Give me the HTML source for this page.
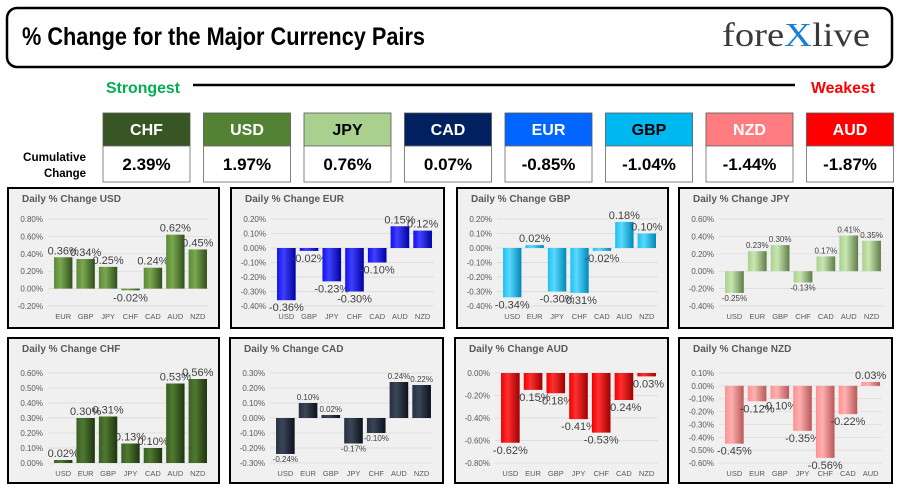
<!DOCTYPE html>
<html><head><meta charset="utf-8"><style>
body{margin:0;background:#fff;}
svg{display:block;font-family:"Liberation Sans",sans-serif;}
.n{font-family:"Liberation Sans Narrow","Liberation Sans",sans-serif;font-weight:bold;}
</style></head><body>
<svg id="s" width="900" height="496" viewBox="0 0 900 496">
<defs id="defs"></defs>
<rect x="7" y="8" width="885" height="59" rx="10" fill="#fff" stroke="#000" stroke-width="2.5"/>
<text x="22" y="45" class="n" font-size="25" textLength="403" lengthAdjust="spacingAndGlyphs" fill="#000">% Change for the Major Currency Pairs</text>
<text x="722" y="46" font-family="Liberation Serif,serif" font-size="34" fill="#3a3a3a" textLength="148" lengthAdjust="spacingAndGlyphs">fore<tspan fill="#1a7fd0">X</tspan>live</text>
<text x="106" y="93" class="n" font-size="16" fill="#00b050" textLength="74" lengthAdjust="spacingAndGlyphs">Strongest</text>
<line x1="193" y1="85" x2="795" y2="85" stroke="#000" stroke-width="2.5"/>
<text x="811" y="93" class="n" font-size="16" fill="#ff0000" textLength="64" lengthAdjust="spacingAndGlyphs">Weakest</text>
<text x="23" y="161" class="n" font-size="12" fill="#000" textLength="63" lengthAdjust="spacingAndGlyphs">Cumulative</text>
<text x="44" y="177" class="n" font-size="12" fill="#000" textLength="42" lengthAdjust="spacingAndGlyphs">Change</text>
<g id="boxes"></g>
<g id="charts"></g>
</svg>
<script>
const NS="http://www.w3.org/2000/svg";
const rankCurrencies=["CHF","USD","JPY","CAD","EUR","GBP","NZD","AUD"];
const rankValues=[2.39,1.97,0.76,0.07,-0.85,-1.04,-1.44,-1.87];
const rankColors=["#375623","#548235","#a9d08e","#002060","#0066ff","#00b8f0","#ff7c80","#ff0000"];
const rankTextColors=["#fff","#fff","#000","#fff","#fff","#000","#fff","#fff"];

const usdCats=["EUR","GBP","JPY","CHF","CAD","AUD","NZD"], usdVals=[0.36,0.34,0.25,-0.02,0.24,0.62,0.45], usdTicks=[0.8,0.6,0.4,0.2,0,-0.2];
const eurCats=["USD","GBP","JPY","CHF","CAD","AUD","NZD"], eurVals=[-0.36,-0.02,-0.23,-0.30,-0.10,0.15,0.12], eurTicks=[0.2,0.1,0,-0.1,-0.2,-0.3,-0.4];
const gbpCats=["USD","EUR","JPY","CHF","CAD","AUD","NZD"], gbpVals=[-0.34,0.02,-0.30,-0.31,-0.02,0.18,0.10], gbpTicks=[0.2,0.1,0,-0.1,-0.2,-0.3,-0.4];
const jpyCats=["USD","EUR","GBP","CHF","CAD","AUD","NZD"], jpyVals=[-0.25,0.23,0.30,-0.13,0.17,0.41,0.35], jpyTicks=[0.6,0.4,0.2,0,-0.2,-0.4];
const chfCats=["USD","EUR","GBP","JPY","CAD","AUD","NZD"], chfVals=[0.02,0.30,0.31,0.13,0.10,0.53,0.56], chfTicks=[0.6,0.5,0.4,0.3,0.2,0.1,0];
const cadCats=["USD","EUR","GBP","JPY","CHF","AUD","NZD"], cadVals=[-0.24,0.10,0.02,-0.17,-0.10,0.24,0.22], cadTicks=[0.3,0.2,0.1,0,-0.1,-0.2,-0.3];
const audCats=["USD","EUR","GBP","JPY","CHF","CAD","NZD"], audVals=[-0.62,-0.15,-0.18,-0.41,-0.53,-0.24,-0.03], audTicks=[0,-0.2,-0.4,-0.6,-0.8];
const nzdCats=["USD","EUR","GBP","JPY","CHF","CAD","AUD"], nzdVals=[-0.45,-0.12,-0.10,-0.35,-0.56,-0.22,0.03], nzdTicks=[0.1,0,-0.1,-0.2,-0.3,-0.4,-0.5,-0.6];

function mk(tag,attrs,parent){const e=document.createElementNS(NS,tag);for(const k in attrs)e.setAttribute(k,attrs[k]);if(parent)parent.appendChild(e);return e;}
const boxes=document.getElementById('boxes');
rankCurrencies.forEach((c,i)=>{
  const x=103+i*100.5;
  const g=mk('g',{},boxes);
  
  
  mk('rect',{x:x,y:113,width:87,height:33,fill:rankColors[i],stroke:"#555","stroke-width":0.8},g);
  mk('rect',{x:x,y:146,width:87,height:36,fill:"#fff",stroke:"#666","stroke-width":0.8},g);
  const t=mk('text',{x:x+43.5,y:135,"text-anchor":"middle","class":"n","font-size":16,fill:rankTextColors[i]},g);t.textContent=c;
  const v=mk('text',{x:x+43.5,y:170,"text-anchor":"middle","class":"n","font-size":17,fill:"#000"},g);v.textContent=rankValues[i].toFixed(2)+'%';
});
const defs=document.getElementById('defs');
function grad(id,light,mid,dark){
  const lg=mk('linearGradient',{id:id,x1:0,x2:1,y1:0,y2:0},defs);
  mk('stop',{offset:"0%","stop-color":mid},lg);
  mk('stop',{offset:"35%","stop-color":light},lg);
  mk('stop',{offset:"100%","stop-color":dark},lg);
}
grad('gUSD','#7aa84f','#5a8a38','#2f4f1c');
grad('gEUR','#4040ff','#1010ee','#0000a0');
grad('gGBP','#5ad8ff','#20c0f0','#0088b8');
grad('gJPY','#c8e6b0','#a9d08e','#5e7d48');
grad('gCHF','#4f7a30','#3a5e24','#1e3410');
grad('gCAD','#3a4658','#25303f','#0c121c');
grad('gAUD','#ff3030','#ee0000','#a00000');
grad('gNZD','#ffb0b0','#ff9090','#b85858');

const charts=[
 {n:'usd',t:'USD',x:8,y:188,w:211,h:140,cats:usdCats,vals:usdVals,ticks:usdTicks,f:'gUSD',ls:11,row:1},
 {n:'eur',t:'EUR',x:231,y:188,w:213,h:140,cats:eurCats,vals:eurVals,ticks:eurTicks,f:'gEUR',ls:11,row:1},
 {n:'gbp',t:'GBP',x:457,y:188,w:211,h:140,cats:gbpCats,vals:gbpVals,ticks:gbpTicks,f:'gGBP',ls:11,row:1},
 {n:'jpy',t:'JPY',x:679,y:188,w:214,h:140,cats:jpyCats,vals:jpyVals,ticks:jpyTicks,f:'gJPY',ls:8,row:1},
 {n:'chf',t:'CHF',x:8,y:338,w:211,h:145,cats:chfCats,vals:chfVals,ticks:chfTicks,f:'gCHF',ls:11,row:2},
 {n:'cad',t:'CAD',x:230,y:338,w:213,h:145,cats:cadCats,vals:cadVals,ticks:cadTicks,f:'gCAD',ls:8,row:2},
 {n:'aud',t:'AUD',x:455,y:338,w:213,h:145,cats:audCats,vals:audVals,ticks:audTicks,f:'gAUD',ls:11,row:2},
 {n:'nzd',t:'NZD',x:679,y:338,w:213,h:145,cats:nzdCats,vals:nzdVals,ticks:nzdTicks,f:'gNZD',ls:11,row:2}
];
const cg=document.getElementById('charts');
charts.forEach(c=>{
  const g=mk('g',{},cg);
  
  
  mk('rect',{x:c.x,y:c.y,width:c.w,height:c.h,fill:"#f0f0f0",stroke:"#000","stroke-width":2},g);
  const tt=mk('text',{x:c.x+14,y:c.y+14,"font-size":10,"font-weight":"bold",fill:"#595959"},g);
  tt.textContent='Daily % Change '+c.t;
  
  
  const top=c.y+(c.row===1?31:35), bot=c.y+(c.row===1?118:125), catY=c.y+(c.row===1?131:138);
  const tmax=c.ticks[0], tmin=c.ticks[c.ticks.length-1];
  const yS=v=>top+(tmax-v)/(tmax-tmin)*(bot-top);
  const pl=c.x+44, pr=c.x+c.w-10, slot=(pr-pl)/c.cats.length;
  const xS=i=>pl+slot*(i+0.5);
  c.ticks.forEach(t=>{
    const y=yS(t);
    const gl=mk('line',{x1:pl-4,x2:pr,y1:y,y2:y,stroke:"#d9d9d9","stroke-width":0.7},g);
    
    
    const tl=mk('text',{x:c.x+35,y:y+3,"text-anchor":"end","font-size":8,fill:"#595959"},g);
    tl.textContent=t.toFixed(2)+'%';
    
    
  });
  c.cats.forEach((cat,i)=>{
    const v=c.vals[i], cx=xS(i), bw=slot*0.82;
    const y0=yS(0), y1=yS(v);
    const b=mk('rect',{x:cx-bw/2,y:Math.min(y0,y1),width:bw,height:Math.max(Math.abs(y1-y0),1.5),fill:'url(#'+c.f+')'},g);
    
    
    const lab=mk('text',{x:cx,y:v>=0?y1-3:y1+c.ls,"text-anchor":"middle","font-size":c.ls,fill:"#404040"},g);
    lab.textContent=v.toFixed(2)+'%';
    
    
    const cl=mk('text',{x:cx,y:catY,"text-anchor":"middle","font-size":7.5,fill:"#595959"},g);
    cl.textContent=cat;
    
    
  });
});
</script>
</body></html>
